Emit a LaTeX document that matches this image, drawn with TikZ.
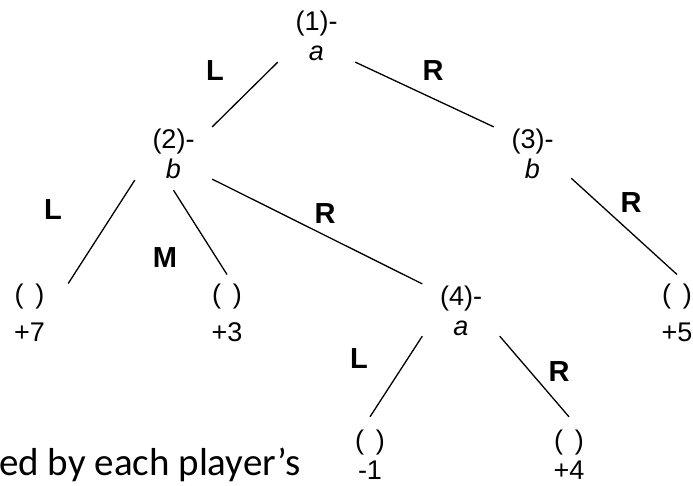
\documentclass[tikz,border=0pt]{standalone}
\usepackage{fontspec}
\setmainfont{Liberation Sans}
\newfontfamily\notefont{Carlito}
\tikzset{
  gamenode/.style={align=center, inner sep=0pt, minimum width=77pt, minimum height=72pt, font=\fontsize{27}{30}\selectfont},
  leafnode/.style={gamenode, minimum height=76pt},
  movelabel/.style={inner sep=0pt, font=\fontsize{29}{29}\selectfont\bfseries},
  branch/.style={line width=1.3pt},
}

\begin{document}
\begin{tikzpicture}[x=1pt, y=-1pt]%
\useasboundingbox (0,0) rectangle (693,486);%
\node[gamenode] (n1) at (316.5, 36) {(1)-\\\textit{a}};%
\node[gamenode] (n2) at (173.5, 154) {(2)-\\\textit{b}};%
\node[gamenode] (n3) at (532.5, 154) {(3)-\\\textit{b}};%
\node[gamenode] (n4) at (461, 311) {(4)-\\\textit{a}};%
\node[leafnode] (p7) at (29.5, 312.7) {(~\,)\\[8pt]+7};%
\node[leafnode] (p3) at (227, 312.7) {(~\,)\\[8pt]+3};%
\node[leafnode] (p5) at (677, 312.7) {(~\,)\\[8pt]+5};%
\node[leafnode] (m1) at (370, 455) {(~\,)\\-1};%
\node[leafnode] (p4) at (569, 455) {(~\,)\\+4};%
\draw[branch] (n1.214) -- (n2.35);%
\draw[branch] (n1.-34) -- (n3.145);%
\draw[branch] (n2.214) -- (p7.37);%
\draw[branch] (n2.south) -- (p3.north);%
\draw[branch] (n2.-33) -- (n4.145);%
\draw[branch] (n3.-32) -- (p5.north);%
\draw[branch] (n4.213) -- (m1.north);%
\draw[branch] (n4.-33) -- (p4.north);%
\node[movelabel] (l12) at (215, 71) {L};%
\node[movelabel] (r13) at (433, 71) {R};%
\node[movelabel] (l27) at (53, 210) {L};%
\node[movelabel] (m23) at (165, 258) {M};%
\node[movelabel] (r24) at (325, 214) {R};%
\node[movelabel] (r35) at (631, 203) {R};%
\node[movelabel] (l41) at (359, 359) {L};%
\node[movelabel] (r44) at (559, 372) {R};%
\node[anchor=base west, inner sep=0pt, font=\notefont\fontsize{39}{39}\selectfont] (note) at (-1, 475) {ed by each player’s};%
\end{tikzpicture}
\end{document}
